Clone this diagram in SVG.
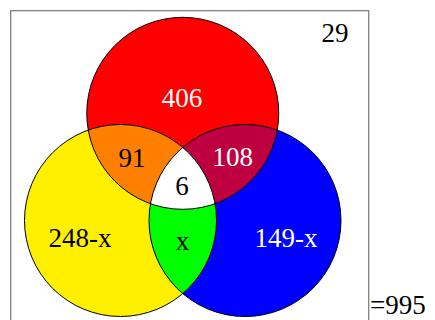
<svg xmlns="http://www.w3.org/2000/svg" width="435" height="320" viewBox="0 0 435 320">
<style>
.t{font-family:"Liberation Serif","Times New Roman",serif;font-size:27px;text-anchor:middle}
.w{fill:#ffffff}
.k{fill:#000000}
.o{fill:none;stroke:#000;stroke-width:1}
</style>
<defs>
<clipPath id="cR"><circle cx="182.75" cy="113.3" r="96"/></clipPath>
<clipPath id="cY"><circle cx="120.5" cy="220.5" r="96"/></clipPath>
</defs>
<rect id="frame" x="10.7" y="10.7" width="358" height="330" fill="#fff" stroke="#808080" stroke-width="1.3"/>
<g id="red"><circle cx="182.75" cy="113.3" r="96" fill="#ff0000"/></g>
<g id="yellow"><circle cx="120.5" cy="220.5" r="96" fill="#fff000"/></g>
<g id="blue"><circle cx="245" cy="220.5" r="96" fill="#0000ff"/></g>
<g id="red-yellow" clip-path="url(#cR)"><circle cx="120.5" cy="220.5" r="96" fill="#ff8000"/></g>
<g id="red-blue" clip-path="url(#cR)"><circle cx="245" cy="220.5" r="96" fill="#bf0040"/></g>
<g id="yellow-blue" clip-path="url(#cY)"><circle cx="245" cy="220.5" r="96" fill="#00ff00"/></g>
<g id="all" clip-path="url(#cR)"><g clip-path="url(#cY)"><circle cx="245" cy="220.5" r="96" fill="#ffffff"/></g></g>
<g id="outlines">
<circle class="o" cx="182.75" cy="113.3" r="96"/>
<circle class="o" cx="120.5" cy="220.5" r="96"/>
<circle class="o" cx="245" cy="220.5" r="96"/>
</g>
<g id="labels">
<text class="t k" x="335" y="42.3">29</text>
<text class="t w" x="182" y="107.3">406</text>
<text class="t k" x="132" y="166.5">91</text>
<text class="t w" x="232.7" y="166">108</text>
<text class="t k" x="182" y="195">6</text>
<text class="t k" x="80" y="247.3">248-x</text>
<text class="t k" x="182.5" y="250">x</text>
<text class="t w" x="286" y="247.3">149-x</text>
<text class="t k" x="370" y="314" style="text-anchor:start">=995</text>
</g>
</svg>
